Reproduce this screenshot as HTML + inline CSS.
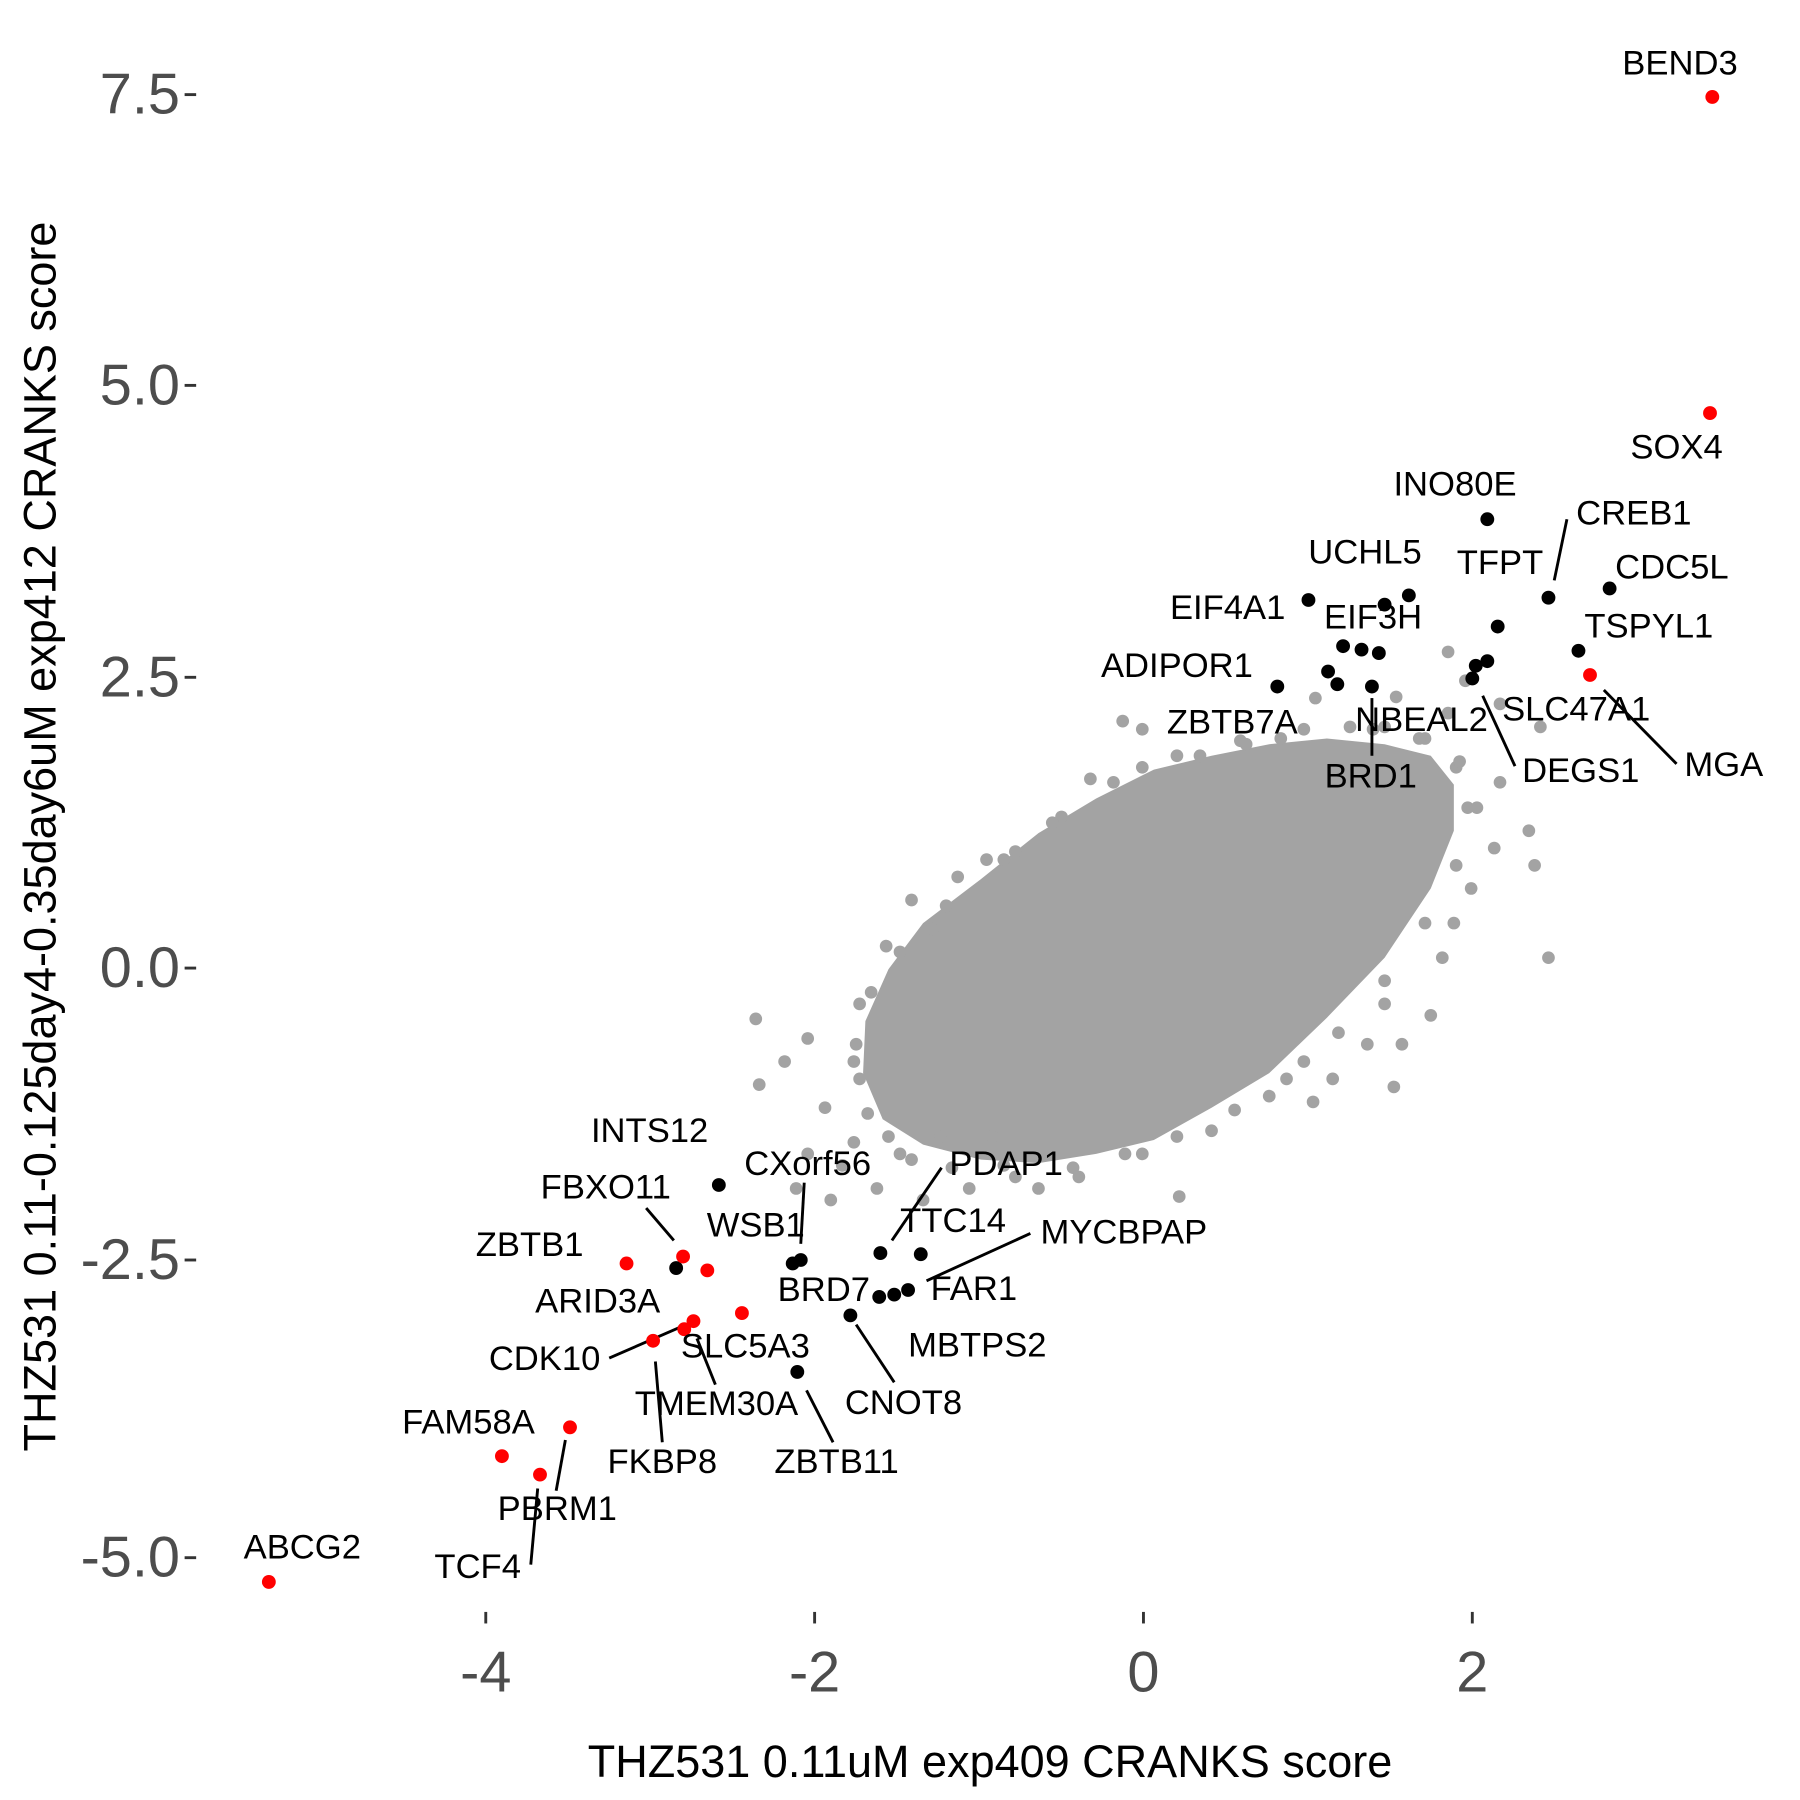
<!DOCTYPE html>
<html><head><meta charset="utf-8"><style>html,body{margin:0;padding:0;background:#fff}svg{display:block}</style></head>
<body>
<svg width="1800" height="1800" viewBox="0 0 1560 1560" xmlns="http://www.w3.org/2000/svg" font-family="Liberation Sans, Arial, sans-serif">
<rect width="1560" height="1560" fill="#fff"/>
<g fill="#a3a3a3">
<path d="M750,885 L770,840 L800,800 L850,762 L900,722 L950,692 L1000,667 L1050,655 L1100,645 L1150,640 L1200,645 L1240,655 L1260,680 L1260,720 L1240,770 L1200,830 L1150,882 L1100,930 L1050,960 L1000,988 L950,1000 L900,1008 L850,1005 L800,992 L765,970 L748,930 Z"/>
<circle cx="742" cy="905" r="5.5"/><circle cx="745" cy="935" r="5.5"/><circle cx="752" cy="965" r="5.5"/><circle cx="770" cy="985" r="5.5"/><circle cx="790" cy="1005" r="5.5"/><circle cx="825" cy="1012" r="5.5"/><circle cx="880" cy="1020" r="5.5"/><circle cx="930" cy="1012" r="5.5"/><circle cx="975" cy="1000" r="5.5"/><circle cx="1020" cy="985" r="5.5"/><circle cx="1070" cy="962" r="5.5"/><circle cx="1115" cy="935" r="5.5"/><circle cx="1160" cy="895" r="5.5"/><circle cx="1200" cy="850" r="5.5"/><circle cx="1235" cy="800" r="5.5"/><circle cx="1262" cy="750" r="5.5"/><circle cx="1272" cy="700" r="5.5"/><circle cx="1262" cy="665" r="5.5"/><circle cx="1235" cy="640" r="5.5"/><circle cx="1190" cy="632" r="5.5"/><circle cx="1130" cy="632" r="5.5"/><circle cx="1075" cy="642" r="5.5"/><circle cx="1020" cy="655" r="5.5"/><circle cx="965" cy="678" r="5.5"/><circle cx="920" cy="708" r="5.5"/><circle cx="870" cy="745" r="5.5"/><circle cx="820" cy="785" r="5.5"/><circle cx="780" cy="825" r="5.5"/><circle cx="755" cy="860" r="5.5"/>
<circle cx="973" cy="625" r="5.5"/><circle cx="990" cy="632" r="5.5"/><circle cx="1140" cy="605" r="5.5"/><circle cx="1210" cy="604" r="5.5"/><circle cx="1255" cy="565" r="5.5"/><circle cx="1270" cy="590" r="5.5"/><circle cx="1300" cy="610" r="5.5"/><circle cx="1335" cy="630" r="5.5"/><circle cx="1300" cy="678" r="5.5"/><circle cx="1325" cy="720" r="5.5"/><circle cx="1330" cy="750" r="5.5"/><circle cx="1342" cy="830" r="5.5"/><circle cx="1295" cy="735" r="5.5"/><circle cx="1275" cy="770" r="5.5"/><circle cx="1260" cy="800" r="5.5"/><circle cx="1250" cy="830" r="5.5"/><circle cx="1215" cy="905" r="5.5"/><circle cx="1208" cy="942" r="5.5"/><circle cx="1185" cy="905" r="5.5"/><circle cx="1155" cy="935" r="5.5"/><circle cx="1138" cy="955" r="5.5"/><circle cx="1130" cy="920" r="5.5"/><circle cx="1100" cy="950" r="5.5"/><circle cx="1050" cy="980" r="5.5"/><circle cx="1022" cy="1037" r="5.5"/><circle cx="990" cy="1000" r="5.5"/><circle cx="935" cy="1020" r="5.5"/><circle cx="900" cy="1030" r="5.5"/><circle cx="870" cy="1010" r="5.5"/><circle cx="840" cy="1030" r="5.5"/><circle cx="800" cy="1040" r="5.5"/><circle cx="760" cy="1030" r="5.5"/><circle cx="730" cy="1010" r="5.5"/><circle cx="700" cy="1000" r="5.5"/><circle cx="690" cy="1030" r="5.5"/><circle cx="655" cy="883" r="5.5"/><circle cx="658" cy="940" r="5.5"/><circle cx="680" cy="920" r="5.5"/><circle cx="700" cy="900" r="5.5"/><circle cx="715" cy="960" r="5.5"/><circle cx="740" cy="920" r="5.5"/><circle cx="745" cy="870" r="5.5"/><circle cx="768" cy="820" r="5.5"/><circle cx="790" cy="780" r="5.5"/><circle cx="808" cy="805" r="5.5"/><circle cx="830" cy="760" r="5.5"/><circle cx="855" cy="745" r="5.5"/><circle cx="880" cy="738" r="5.5"/><circle cx="912" cy="713" r="5.5"/><circle cx="945" cy="675" r="5.5"/><circle cx="990" cy="665" r="5.5"/><circle cx="1040" cy="655" r="5.5"/><circle cx="1080" cy="645" r="5.5"/><circle cx="1110" cy="640" r="5.5"/><circle cx="1170" cy="630" r="5.5"/><circle cx="1230" cy="640" r="5.5"/><circle cx="1265" cy="660" r="5.5"/><circle cx="1280" cy="700" r="5.5"/><circle cx="1240" cy="880" r="5.5"/><circle cx="1200" cy="870" r="5.5"/><circle cx="860" cy="985" r="5.5"/><circle cx="815" cy="985" r="5.5"/><circle cx="780" cy="1000" r="5.5"/><circle cx="740" cy="990" r="5.5"/><circle cx="720" cy="1040" r="5.5"/><circle cx="1255" cy="618" r="5.5"/><circle cx="1200" cy="630" r="5.5"/>
</g>
<g stroke="#000" stroke-width="2.5">
<line x1="1358" y1="450" x2="1347" y2="503"/><line x1="1285" y1="603" x2="1313" y2="664"/><line x1="1390" y1="598" x2="1453" y2="662"/><line x1="1189" y1="605" x2="1189" y2="655"/>
<line x1="697" y1="1025" x2="694" y2="1078"/><line x1="816" y1="1012" x2="773" y2="1075"/><line x1="893" y1="1069" x2="803" y2="1110"/><line x1="560" y1="1047" x2="584" y2="1075"/><line x1="528" y1="1177" x2="590" y2="1150"/><line x1="604" y1="1160" x2="620" y2="1200"/><line x1="568" y1="1180" x2="574" y2="1250"/><line x1="742" y1="1148" x2="775" y2="1198"/><line x1="699" y1="1205" x2="722" y2="1250"/><line x1="490" y1="1248" x2="482" y2="1292"/><line x1="466" y1="1290" x2="460" y2="1356"/>
</g>
<g fill="#000">
<circle cx="1289" cy="450" r="6"/><circle cx="1395" cy="510" r="6"/><circle cx="1342" cy="518" r="6"/><circle cx="1221" cy="516" r="6"/><circle cx="1200" cy="524" r="6"/><circle cx="1134" cy="520" r="6"/><circle cx="1298" cy="543" r="6"/><circle cx="1368" cy="564" r="6"/><circle cx="1164" cy="560" r="6"/><circle cx="1180" cy="563" r="6"/><circle cx="1195" cy="566" r="6"/><circle cx="1151" cy="582" r="6"/><circle cx="1159" cy="593" r="6"/><circle cx="1189" cy="595" r="6"/><circle cx="1107" cy="595" r="6"/><circle cx="1289" cy="573" r="6"/><circle cx="1279" cy="577" r="6"/><circle cx="1276" cy="588" r="6"/>
<circle cx="623" cy="1027" r="6"/><circle cx="586" cy="1099" r="6"/><circle cx="694" cy="1092" r="6"/><circle cx="687" cy="1095" r="6"/><circle cx="763" cy="1086" r="6"/><circle cx="798" cy="1087" r="6"/><circle cx="787" cy="1118" r="6"/><circle cx="775" cy="1122" r="6"/><circle cx="762" cy="1124" r="6"/><circle cx="737" cy="1140" r="6"/><circle cx="691" cy="1189" r="6"/>
</g>
<g fill="#ff0000">
<circle cx="1484" cy="84" r="6"/><circle cx="1482" cy="358" r="6"/><circle cx="1378" cy="585" r="6"/><circle cx="543" cy="1095" r="6"/><circle cx="592" cy="1089" r="6"/><circle cx="613" cy="1101" r="6"/><circle cx="643" cy="1138" r="6"/><circle cx="601" cy="1145" r="6"/><circle cx="593" cy="1152" r="6"/><circle cx="566" cy="1162" r="6"/><circle cx="435" cy="1262" r="6"/><circle cx="494" cy="1237" r="6"/><circle cx="468" cy="1278" r="6"/><circle cx="233" cy="1371" r="6"/>
</g>
<g font-size="30" fill="#000" text-anchor="middle" dominant-baseline="central">
<text x="1456" y="55">BEND3</text><text x="1453" y="388">SOX4</text><text x="1261" y="420">INO80E</text><text x="1416" y="445">CREB1</text><text x="1300" y="488">TFPT</text><text x="1449" y="492">CDC5L</text><text x="1183" y="479">UCHL5</text><text x="1064" y="527">EIF4A1</text><text x="1190" y="535">EIF3H</text><text x="1429" y="543">TSPYL1</text><text x="1020" y="577">ADIPOR1</text><text x="1068" y="626">ZBTB7A</text><text x="1232" y="624">NBEAL2</text><text x="1366" y="615">SLC47A1</text><text x="1188" y="673">BRD1</text><text x="1370" y="668">DEGS1</text><text x="1494" y="663">MGA</text>
<text x="563" y="980">INTS12</text><text x="700" y="1009">CXorf56</text><text x="872" y="1009">PDAP1</text><text x="525" y="1029">FBXO11</text><text x="655" y="1062">WSB1</text><text x="826" y="1058">TTC14</text><text x="974" y="1068">MYCBPAP</text><text x="459" y="1079">ZBTB1</text><text x="518" y="1128">ARID3A</text><text x="714" y="1118">BRD7</text><text x="844" y="1117">FAR1</text><text x="472" y="1178">CDK10</text><text x="646" y="1167">SLC5A3</text><text x="847" y="1166">MBTPS2</text><text x="621" y="1217">TMEM30A</text><text x="783" y="1216">CNOT8</text><text x="406" y="1233">FAM58A</text><text x="574" y="1267">FKBP8</text><text x="725" y="1267">ZBTB11</text><text x="483" y="1308">PBRM1</text><text x="414" y="1358">TCF4</text><text x="262" y="1341">ABCG2</text>
</g>
<g stroke="#333" stroke-width="2.5">
<line x1="160" y1="82" x2="170" y2="82"/><line x1="160" y1="334" x2="170" y2="334"/><line x1="160" y1="587" x2="170" y2="587"/><line x1="160" y1="839" x2="170" y2="839"/><line x1="160" y1="1092" x2="170" y2="1092"/><line x1="160" y1="1350" x2="170" y2="1350"/>
<line x1="421" y1="1397" x2="421" y2="1407"/><line x1="706" y1="1397" x2="706" y2="1407"/><line x1="991" y1="1397" x2="991" y2="1407"/><line x1="1276" y1="1397" x2="1276" y2="1407"/>
</g>
<g font-size="50" fill="#4d4d4d" text-anchor="end" dominant-baseline="central">
<text x="156" y="82">7.5</text><text x="156" y="334">5.0</text><text x="156" y="587">2.5</text><text x="156" y="839">0.0</text><text x="156" y="1092">-2.5</text><text x="156" y="1350">-5.0</text>
</g>
<g font-size="50" fill="#4d4d4d" text-anchor="middle">
<text x="421" y="1466">-4</text><text x="706" y="1466">-2</text><text x="991" y="1466">0</text><text x="1276" y="1466">2</text>
</g>
<text x="858" y="1540" font-size="39" text-anchor="middle" fill="#000">THZ531 0.11uM exp409 CRANKS score</text>
<text transform="translate(48,725) rotate(-90)" font-size="39" text-anchor="middle" fill="#000">THZ531 0.11-0.125day4-0.35day6uM exp412 CRANKS score</text>
</svg>
</body></html>
